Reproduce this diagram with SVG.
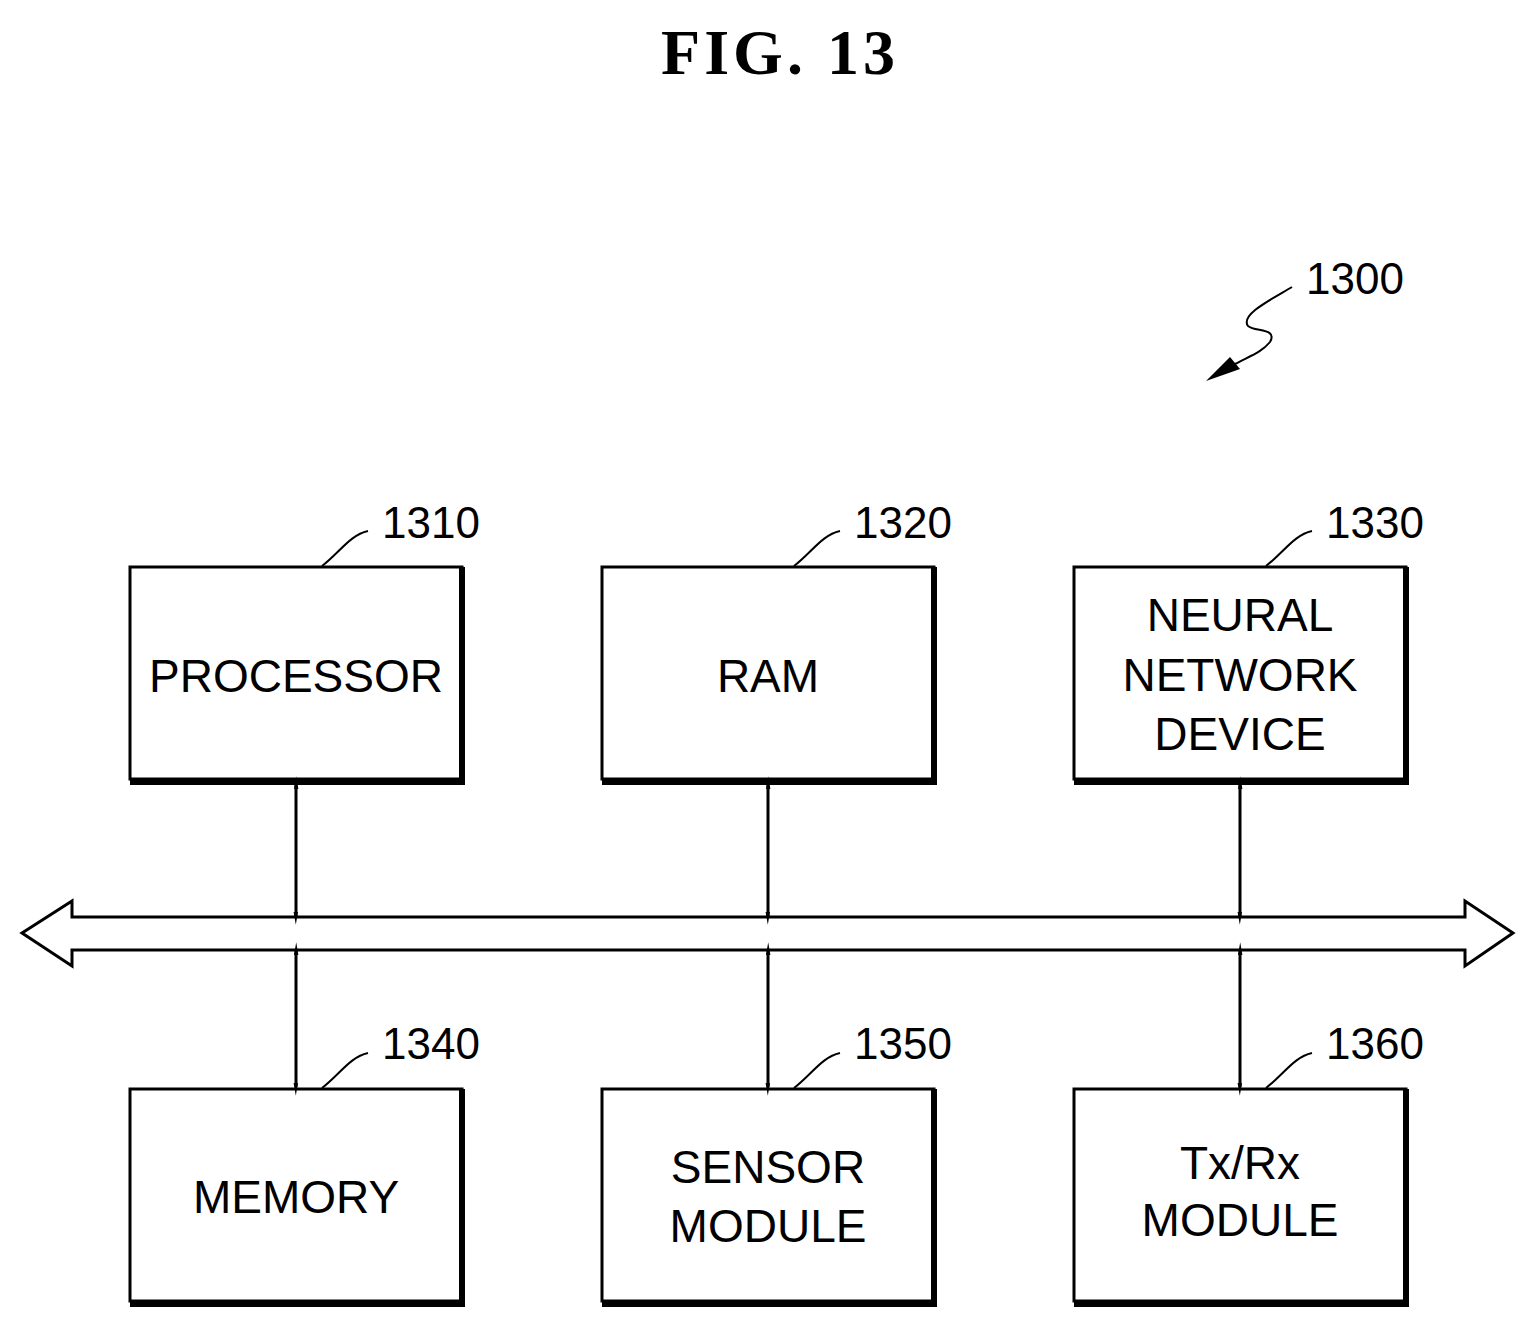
<svg xmlns="http://www.w3.org/2000/svg" width="1536" height="1327" viewBox="0 0 1536 1327">
<style>
.t{font-family:"Liberation Sans",Arial,sans-serif;font-size:46px;fill:#000;text-anchor:middle}
.n{font-family:"Liberation Sans",Arial,sans-serif;font-size:44px;fill:#000}
.b{fill:#fff;stroke:#000;stroke-width:3}
.sh{fill:none;stroke:#000;stroke-width:6}
.l{fill:none;stroke:#000;stroke-width:2}
.c{fill:none;stroke:#000;stroke-width:3}
</style>
<defs>
<marker id="a" viewBox="0 0 10 10" refX="10" refY="5" markerWidth="4" markerHeight="10" markerUnits="userSpaceOnUse" orient="auto-start-reverse" style="overflow:visible">
<path d="M0,0 L10,5 L0,10 Z" fill="#000" transform="scale(3.2,1.1)"/>
</marker>
</defs>
<rect width="1536" height="1327" fill="#fff"/>
<text x="780" y="74" style="font-family:'Liberation Serif',serif;font-weight:bold;font-size:64px;text-anchor:middle;letter-spacing:4px">FIG. 13</text>
<g id="ref1300">
<text class="n" x="1306" y="294">1300</text>
<path class="l" d="M1292,287 C1270,300 1240,315 1248,326 C1255,332 1278,328 1270,342 C1262,352 1250,356 1235,364"/>
<path d="M1206,381 L1230,357 L1240,369 Z" fill="#000"/>
</g>
<g id="n1310"><rect class="b" x="130" y="567" width="332" height="212"/><path class="sh" d="M462,567 V782 H130"/><text class="t" x="296" y="692">PROCESSOR</text><path class="l" d="M322,566 C340,552 350,535 368,531"/><text class="n" x="382" y="538">1310</text></g>
<g id="n1320"><rect class="b" x="602" y="567" width="332" height="212"/><path class="sh" d="M934,567 V782 H602"/><text class="t" x="768" y="692">RAM</text><path class="l" d="M794,566 C812,552 822,535 840,531"/><text class="n" x="854" y="538">1320</text></g>
<g id="n1330"><rect class="b" x="1074" y="567" width="332" height="212"/><path class="sh" d="M1406,567 V782 H1074"/><text class="t" x="1240" y="631">NEURAL</text><text class="t" x="1240" y="691">NETWORK</text><text class="t" x="1240" y="750">DEVICE</text><path class="l" d="M1266,566 C1284,552 1294,535 1312,531"/><text class="n" x="1326" y="538">1330</text></g>
<g id="n1340"><rect class="b" x="130" y="1089" width="332" height="212"/><path class="sh" d="M462,1089 V1304 H130"/><text class="t" x="296" y="1213">MEMORY</text><path class="l" d="M322,1088 C340,1074 350,1057 368,1053"/><text class="n" x="382" y="1059">1340</text></g>
<g id="n1350"><rect class="b" x="602" y="1089" width="332" height="212"/><path class="sh" d="M934,1089 V1304 H602"/><text class="t" x="768" y="1183">SENSOR</text><text class="t" x="768" y="1242">MODULE</text><path class="l" d="M794,1088 C812,1074 822,1057 840,1053"/><text class="n" x="854" y="1059">1350</text></g>
<g id="n1360"><rect class="b" x="1074" y="1089" width="332" height="212"/><path class="sh" d="M1406,1089 V1304 H1074"/><text class="t" x="1240" y="1179">Tx/Rx</text><text class="t" x="1240" y="1236">MODULE</text><path class="l" d="M1266,1088 C1284,1074 1294,1057 1312,1053"/><text class="n" x="1326" y="1059">1360</text></g>
<g id="connectors">
<path d="M22,933 L72,901 L72,917 L1465,917 L1465,901 L1513,933 L1465,966 L1465,950 L72,950 L72,966 Z" fill="#fff" stroke="#000" stroke-width="3" stroke-linejoin="miter"/>
<line class="c" x1="296" y1="785" x2="296" y2="916" marker-start="url(#a)" marker-end="url(#a)"/>
<line class="c" x1="768" y1="785" x2="768" y2="916" marker-start="url(#a)" marker-end="url(#a)"/>
<line class="c" x1="1240" y1="785" x2="1240" y2="916" marker-start="url(#a)" marker-end="url(#a)"/>
<line class="c" x1="296" y1="951" x2="296" y2="1087" marker-start="url(#a)" marker-end="url(#a)"/>
<line class="c" x1="768" y1="951" x2="768" y2="1087" marker-start="url(#a)" marker-end="url(#a)"/>
<line class="c" x1="1240" y1="951" x2="1240" y2="1087" marker-start="url(#a)" marker-end="url(#a)"/>
</g>
</svg>
